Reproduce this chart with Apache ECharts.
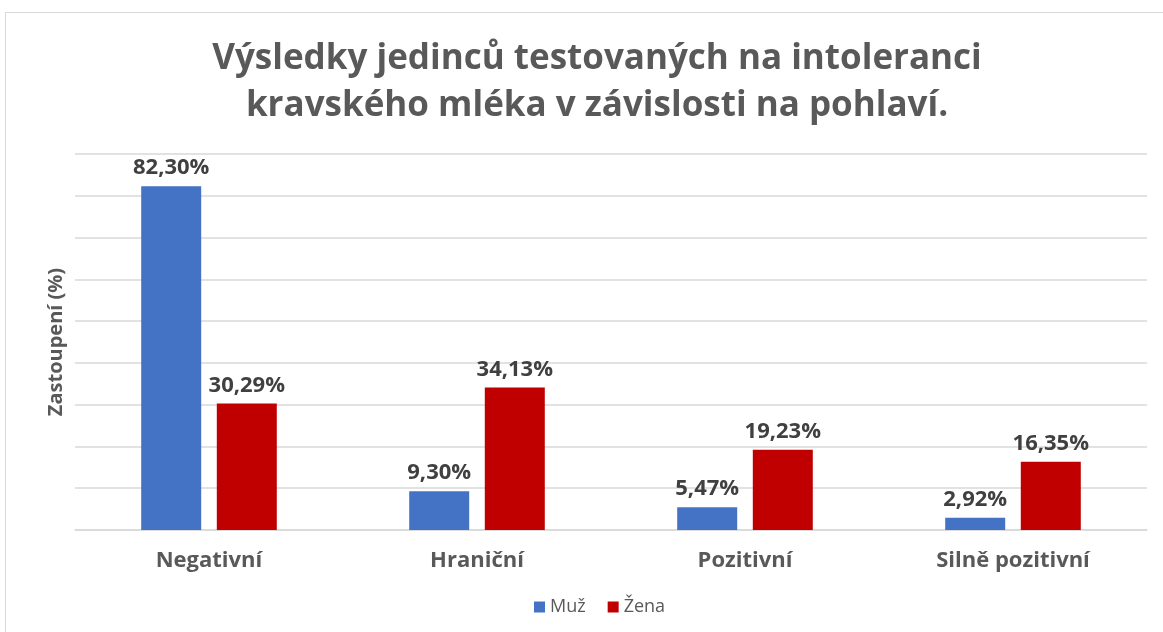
<!DOCTYPE html>
<html>
<head>
<meta charset="utf-8">
<script src="https://cdn.jsdelivr.net/npm/echarts@6/dist/echarts.min.js"></script>
<style>
  html, body { margin: 0; padding: 0; background: #fff; }
  #frame { position: absolute; left: 5px; top: 12px; width: 1170px; height: 640px; border: 1px solid #d9d9d9; box-sizing: border-box; }
  #chart { position: absolute; left: 0; top: 0; width: 1163px; height: 632px; }
</style>
</head>
<body>
<div id="frame"></div>
<div id="chart"></div>
<script>
// kategorie a hodnoty (%)
const categories = ['Negativní', 'Hraniční', 'Pozitivní', 'Silně pozitivní']
const muz = [82.30, 9.30, 5.47, 2.92]
const zena = [30.29, 34.13, 19.23, 16.35]

const chart = echarts.init(document.getElementById('chart'))

function fmt(p) {
  return p.value.toFixed(2).replace('.', ',') + '%'
}

const labelStyle = {
  show: true,
  position: 'top',
  distance: 7,
  formatter: fmt,
  fontFamily: 'Open Sans',
  fontWeight: 'bold',
  fontSize: 22,
  color: '#404040'
}

chart.setOption({
  title: {
    text: 'Výsledky jedinců testovaných na intoleranci\nkravského mléka v závislosti na pohlaví.',
    left: 592,
    top: 31,
    textAlign: 'center',
    textStyle: {
      fontFamily: 'Open Sans',
      fontWeight: 'bold',
      fontSize: 35,
      lineHeight: 47,
      color: '#595959'
    }
  },
  legend: {
    bottom: 11,
    left: 529,
    itemWidth: 11,
    itemHeight: 11,
    itemGap: 22,
    icon: 'rect',
    textStyle: { fontFamily: 'Open Sans', fontSize: 18, color: '#595959' },
    data: ['Muž', 'Žena']
  },
  grid: { left: 75, right: 16, top: 154, bottom: 102 },
  xAxis: {
    type: 'category',
    data: categories,
    axisLine: { lineStyle: { color: '#d9d9d9', width: 1.5 } },
    axisTick: { show: false },
    axisLabel: {
      margin: 20,
      fontFamily: 'Open Sans',
      fontWeight: 'bold',
      fontSize: 22,
      color: '#595959'
    }
  },
  yAxis: {
    type: 'value',
    min: 0,
    max: 90,
    interval: 10,
    name: 'Zastoupení (%)',
    nameLocation: 'middle',
    nameGap: 9,
    nameTextStyle: { fontFamily: 'Open Sans', fontWeight: 'bold', fontSize: 20, color: '#595959' },
    axisLabel: { show: false },
    axisLine: { show: false },
    axisTick: { show: false },
    splitLine: { lineStyle: { color: '#d9d9d9', width: 1.5 } }
  },
  series: [
    {
      name: 'Muž',
      type: 'bar',
      data: muz,
      barWidth: 60,
      barGap: '26%',
      itemStyle: { color: '#4472C4' },
      label: labelStyle
    },
    {
      name: 'Žena',
      type: 'bar',
      data: zena,
      barWidth: 60,
      itemStyle: { color: '#C00000' },
      label: labelStyle
    }
  ]
})
</script>
</body>
</html>
